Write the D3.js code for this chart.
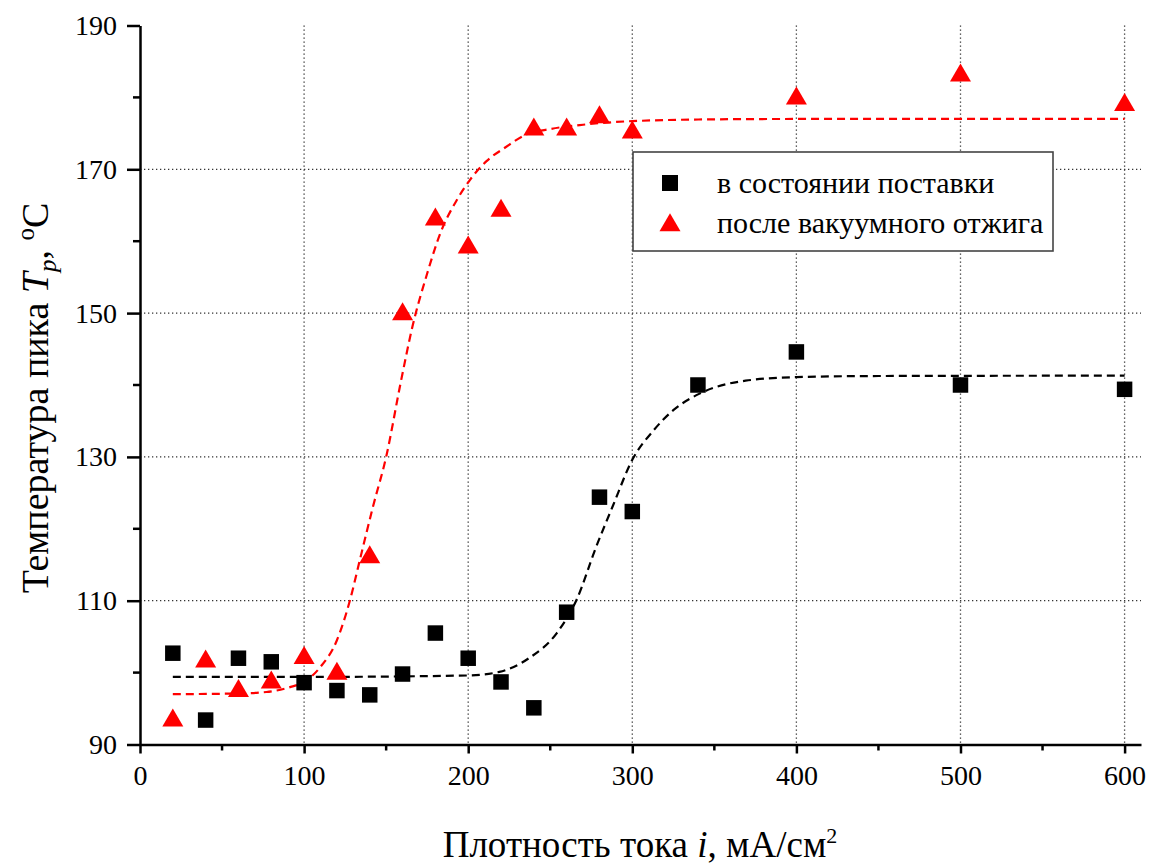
<!DOCTYPE html>
<html>
<head>
<meta charset="utf-8">
<script src="https://cdnjs.cloudflare.com/ajax/libs/d3/7.8.5/d3.min.js"></script>
<style>
    body { margin: 0; background: #fff; }
    svg { display: block; }
    svg text { font-family: 'Liberation Serif', 'Times New Roman', serif !important; }
</style>
</head>
<body>
<svg id="chart" width="1158" height="866"></svg>
<script>
//////////////////////   DATA    //////////////////////

// в состоянии поставки
var asDeliveredX = [20, 40, 60, 80, 100, 120, 140, 160, 180, 200, 220, 240, 260, 280, 300, 340, 400, 500, 600];
var asDeliveredY = [102.7, 93.4, 102.0, 101.5, 98.6, 97.5, 96.9, 99.8, 105.5, 102.0, 98.7, 95.1, 108.4, 124.4, 122.4, 140.0, 144.6, 140.0, 139.4];

// после вакуумного отжига
var annealedX = [20, 40, 60, 80, 100, 120, 140, 160, 180, 200, 220, 240, 260, 280, 300, 400, 500, 600];
var annealedY = [93.5, 101.7, 97.6, 98.8, 102.2, 100.0, 116.2, 150.0, 163.2, 159.3, 164.4, 175.7, 175.7, 177.4, 175.3, 180.0, 183.2, 179.1];

// fitted curves
var fitBlackX = [20, 100, 200, 219, 237, 254, 266, 278, 288, 300, 313, 325, 341, 369, 400, 450, 600];
var fitBlackY = [99.4, 99.4, 99.6, 100.1, 102.0, 105.5, 110.1, 117.5, 123.1, 129.6, 133.7, 136.5, 138.8, 140.6, 141.1, 141.25, 141.3];

var fitRedX = [20, 60, 77, 91, 100, 110, 120, 128, 134, 142, 150, 159, 166, 175, 183, 193, 201, 211, 223, 235, 250, 270, 300, 350, 400, 600];
var fitRedY = [97.0, 97.1, 97.3, 97.95, 98.7, 100.8, 104.5, 110.1, 115.7, 123.1, 130.0, 140.5, 148.1, 155.5, 161.1, 165.7, 168.5, 171.1, 173.1, 174.8, 175.6, 176.2, 176.7, 176.95, 177.0, 177.0];

var xTicks = [0, 100, 200, 300, 400, 500, 600];
var xMinorTicks = [50, 150, 250, 350, 450, 550];
var yTicks = [90, 110, 130, 150, 170, 190];
var yMinorTicks = [100, 120, 140, 160, 180];
var xGrid = [100, 200, 300, 400, 500, 600];
var yGrid = [110, 130, 150, 170];

var legendLabels = ['в состоянии поставки', 'после вакуумного отжига'];

//////////////////////   CHART    //////////////////////

var FONT = "'Liberation Serif', serif";
var svg = d3.select('#chart');

var x = d3.scaleLinear().domain([0, 610]).range([140, 1141]);
var y = d3.scaleLinear().domain([90, 190]).range([744.5, 25.5]);

var toPoints = function (xs, ys) {
    return xs.map(function (v, i) { return [v, ys[i]]; });
};

// grid
var grid = svg.append('g')
    .attr('stroke', '#333')
    .attr('stroke-width', 1.3)
    .attr('stroke-dasharray', '1.3,2.7');

grid.selectAll('line.gx')
    .data(xGrid)
    .enter()
    .append('line')
    .attr('x1', function (d) { return x(d); })
    .attr('x2', function (d) { return x(d); })
    .attr('y1', y(190))
    .attr('y2', y(90));

grid.selectAll('line.gy')
    .data(yGrid)
    .enter()
    .append('line')
    .attr('x1', x(0))
    .attr('x2', x(610))
    .attr('y1', function (d) { return y(d); })
    .attr('y2', function (d) { return y(d); });

// fitted curves
var line = d3.line()
    .x(function (d) { return x(d[0]); })
    .y(function (d) { return y(d[1]); })
    .curve(d3.curveMonotoneX);

svg.append('path')
    .attr('d', line(toPoints(fitBlackX, fitBlackY)))
    .attr('fill', 'none')
    .attr('stroke', '#000')
    .attr('stroke-width', 2.2)
    .attr('stroke-dasharray', '8,5');

svg.append('path')
    .attr('d', line(toPoints(fitRedX, fitRedY)))
    .attr('fill', 'none')
    .attr('stroke', '#ff0000')
    .attr('stroke-width', 2.2)
    .attr('stroke-dasharray', '8,5');

// markers
var square = d3.symbol().type(d3.symbolSquare).size(240);
var triangle = function (cx, cy) {
    var w = 21, h = 18;
    return 'M' + cx + ',' + (cy - h * 0.6) +
        'L' + (cx + w / 2) + ',' + (cy + h * 0.4) +
        'L' + (cx - w / 2) + ',' + (cy + h * 0.4) + 'Z';
};

svg.append('g')
    .selectAll('path')
    .data(toPoints(annealedX, annealedY))
    .enter()
    .append('path')
    .attr('d', function (d) { return triangle(x(d[0]), y(d[1])); })
    .attr('fill', '#ff0000');

svg.append('g')
    .selectAll('path')
    .data(toPoints(asDeliveredX, asDeliveredY))
    .enter()
    .append('path')
    .attr('d', square)
    .attr('transform', function (d) { return 'translate(' + x(d[0]) + ',' + y(d[1]) + ')'; })
    .attr('fill', '#000');

// axes
var xAxis = svg.append('g').attr('transform', 'translate(0,' + y(90) + ')');
xAxis.call(d3.axisBottom(x).tickValues(xTicks).tickSize(9).tickSizeOuter(0).tickPadding(12));
xMinorTicks.forEach(function (v) {
    xAxis.append('line')
        .attr('x1', x(v)).attr('x2', x(v))
        .attr('y1', 0).attr('y2', 6)
        .attr('stroke', '#000').attr('stroke-width', 2.5);
});

var yAxis = svg.append('g').attr('transform', 'translate(' + x(0) + ',0)');
yAxis.call(d3.axisLeft(y).tickValues(yTicks).tickSize(13).tickSizeOuter(0).tickPadding(10));
yMinorTicks.forEach(function (v) {
    yAxis.append('line')
        .attr('x1', 0).attr('x2', -7)
        .attr('y1', y(v)).attr('y2', y(v))
        .attr('stroke', '#000').attr('stroke-width', 2.5);
});

svg.selectAll('.domain, .tick line')
    .attr('stroke', '#000')
    .attr('stroke-width', 2.5);
xAxis.attr('font-family', FONT).attr('font-size', 28);
yAxis.attr('font-family', FONT).attr('font-size', 28);
svg.selectAll('.tick text').attr('fill', '#000');

// axis titles
var xTitle = svg.append('text')
    .attr('x', 640)
    .attr('y', 857)
    .attr('text-anchor', 'middle')
    .attr('font-family', FONT)
    .attr('font-size', 37);
xTitle.append('tspan').text('Плотность тока ');
xTitle.append('tspan').attr('font-style', 'italic').text('i');
xTitle.append('tspan').text(', мА/см');
xTitle.append('tspan').attr('dy', -14).attr('font-size', 22).text('2');

var yTitle = svg.append('text')
    .attr('transform', 'translate(48,398) rotate(-90)')
    .attr('text-anchor', 'middle')
    .attr('font-family', FONT)
    .attr('font-size', 38);
yTitle.append('tspan').text('Температура пика ');
yTitle.append('tspan').attr('font-style', 'italic').text('T');
yTitle.append('tspan').attr('dy', 8).attr('font-style', 'italic').attr('font-size', 25).text('p');
yTitle.append('tspan').attr('dy', -8).text(', ');
yTitle.append('tspan').attr('dy', -14).attr('font-size', 25).text('o');
yTitle.append('tspan').attr('dy', 14).text('C');

// legend
var legend = svg.append('g').attr('font-family', FONT);
legend.append('rect')
    .attr('x', 633).attr('y', 152)
    .attr('width', 420).attr('height', 99)
    .attr('fill', '#fff')
    .attr('stroke', '#444')
    .attr('stroke-width', 1.6);

legend.append('path')
    .attr('d', d3.symbol().type(d3.symbolSquare).size(256)())
    .attr('transform', 'translate(670,183)')
    .attr('fill', '#000');
legend.append('path')
    .attr('d', triangle(670, 224))
    .attr('fill', '#ff0000');

legend.selectAll('text')
    .data(legendLabels)
    .enter()
    .append('text')
    .attr('x', 717)
    .attr('y', function (d, i) { return 193 + i * 40; })
    .attr('font-size', 30)
    .text(function (d) { return d; });
</script>
</body>
</html>
